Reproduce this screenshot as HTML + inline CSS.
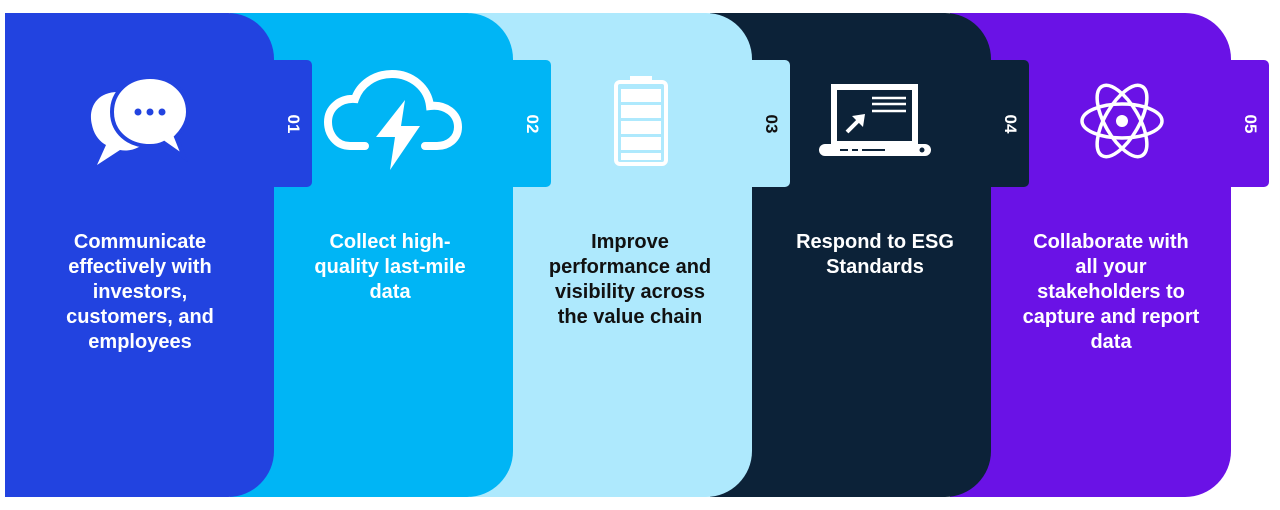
<!DOCTYPE html>
<html><head><style>
body{margin:0;width:1280px;height:510px;background:#fff;position:relative;overflow:hidden;font-family:"Liberation Sans",Arial,sans-serif}
.p{position:absolute;top:13px;height:484px;border-radius:0 46px 46px 0}
.t{position:absolute;top:60px;width:40px;height:127px;border-radius:0 5px 5px 0}
.n{position:absolute;top:124px;width:40px;text-align:center;color:#fff;font-weight:bold;font-size:17px;transform:translateY(-50%) rotate(90deg);line-height:20px}
.x{position:absolute;top:230px;text-align:center;font-weight:bold;font-size:20px;line-height:25px;color:#fff}
</style></head><body>
<div class="p" style="left:950px;width:281px;background:#6a12e6;z-index:1"></div>
<div class="t" style="left:1229px;background:#6a12e6;z-index:1"></div>
<div class="p" style="left:710px;width:281px;background:#0c2238;z-index:2"></div>
<div class="t" style="left:989px;background:#0c2238;z-index:2"></div>
<div class="p" style="left:470px;width:282px;background:#aee9fd;z-index:3"></div>
<div class="t" style="left:750px;background:#aee9fd;z-index:3"></div>
<div class="p" style="left:230px;width:283px;background:#00b5f5;z-index:4"></div>
<div class="t" style="left:511px;background:#00b5f5;z-index:4"></div>
<div class="p" style="left:5px;width:269px;background:#2243e0;z-index:5"></div>
<div class="t" style="left:272px;background:#2243e0;z-index:5"></div>

<div style="position:absolute;left:0;top:0;z-index:10;width:1280px;height:510px">
<div class="n" style="left:273px">01</div>
<div class="n" style="left:512px">02</div>
<div class="n" style="left:751px;color:#111">03</div>
<div class="n" style="left:990px">04</div>
<div class="n" style="left:1230px">05</div>
<div class="x" style="left:52px;width:176px">Communicate effectively with investors, customers, and employees</div>
<div class="x" style="left:305px;width:170px">Collect high-quality last-mile data</div>
<div class="x" style="left:540px;width:180px;color:#111">Improve performance and visibility across the value chain</div>
<div class="x" style="left:785px;width:180px">Respond to ESG Standards</div>
<div class="x" style="left:1001px;width:220px">Collaborate with<br>all your<br>stakeholders to<br>capture and report<br>data</div>
<svg width="1280" height="510" style="position:absolute;left:0;top:0">
<path d="M118 92 C95 92 88 110 92 125 C94 135 100 142 106 145 L97 165 L120 150 C130 152 140 148 145 142 L140 100 Z" fill="#fff"/>
<path d="M150 77 C128 77 112 92 112 112 C112 132 128 146 150 146 C155 146 160 145 164 143 L184 157 L176 137 C183 130 188 121 188 112 C188 92 172 77 150 77Z" fill="#fff" stroke="#2243e0" stroke-width="4"/>
<circle cx="138" cy="112" r="3.5" fill="#2243e0"/><circle cx="150" cy="112" r="3.5" fill="#2243e0"/><circle cx="162" cy="112" r="3.5" fill="#2243e0"/>
<path d="M365 146 H350 C336 146 328 134 328 122 C328 108 340 98 355 99 C360 84 375 74 392 74 C412 74 428 88 430 106 C446 104 458 114 458 127 C458 139 448 146 437 146 H425" fill="none" stroke="#fff" stroke-width="8" stroke-linecap="round"/>
<path d="M405 100 L376 137 H395 L390 170 L420 126 H401 Z" fill="#fff"/>
<rect x="616" y="82" width="50" height="82" rx="4" fill="none" stroke="#fff" stroke-width="4"/>
<rect x="630" y="76" width="22" height="7" fill="#fff"/>
<rect x="621" y="89" width="40" height="13" fill="#fff"/><rect x="621" y="105" width="40" height="13" fill="#fff"/><rect x="621" y="121" width="40" height="13" fill="#fff"/><rect x="621" y="137" width="40" height="13" fill="#fff"/><rect x="621" y="153" width="40" height="7" fill="#fff"/>
<rect x="834" y="87" width="81" height="57" fill="none" stroke="#fff" stroke-width="6"/>
<rect x="819" y="144" width="112" height="12" rx="6" fill="#fff"/>
<circle cx="922" cy="150" r="2.5" fill="#0c2238"/>
<path d="M840 150 H848 M852 150 H858 M862 150 H885" stroke="#0c2238" stroke-width="2"/>
<path d="M872 98 H906 M872 104 H906 M872 111 H906" stroke="#fff" stroke-width="2.5"/>
<path d="M847 132 L860 119" stroke="#fff" stroke-width="4"/><path d="M852 116 L865 114 L863 127 Z" fill="#fff"/>
<g fill="none" stroke="#fff" stroke-width="3.5" transform="translate(1122,121)">
<ellipse rx="40" ry="17"/><ellipse rx="40" ry="17" transform="rotate(60)"/><ellipse rx="40" ry="17" transform="rotate(-60)"/>
</g>
<circle cx="1122" cy="121" r="6" fill="#fff"/>
</svg>
</div>
</body></html>
